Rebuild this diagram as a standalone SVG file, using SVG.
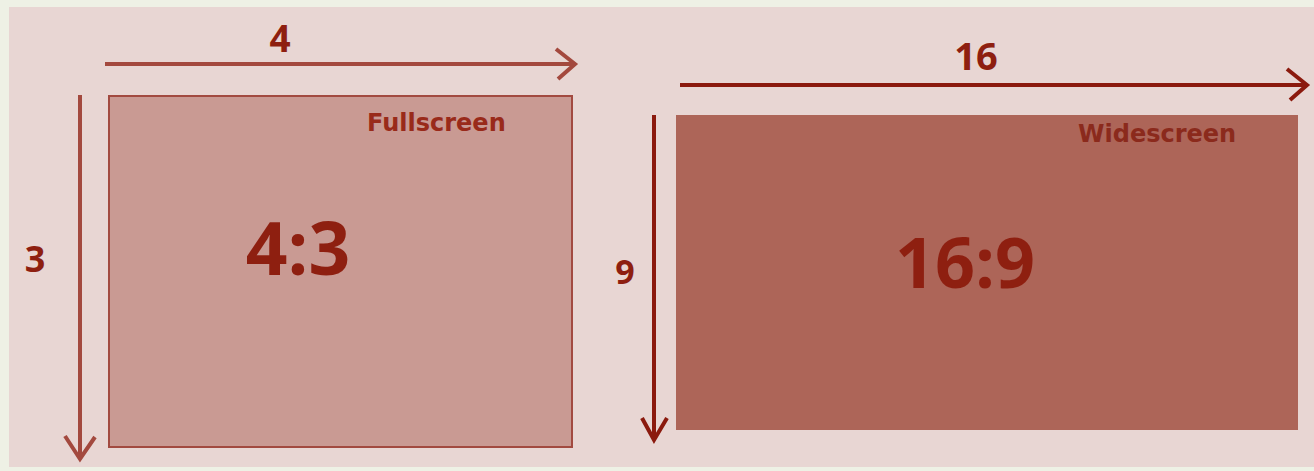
<svg xmlns="http://www.w3.org/2000/svg" width="1314" height="471" viewBox="0 0 1314 471">
<style>
.lbl{font-family:"Open Sans","Liberation Sans",sans-serif;font-weight:bold;fill:#8e1f10}
.cap{font-family:"DejaVu Sans","Liberation Sans",sans-serif;font-weight:bold;font-size:24px}
.a1{stroke:#a3493e;stroke-width:4;fill:none}
.a2{stroke:#8b1a0e;stroke-width:4;fill:none}
</style>
<rect x="0" y="0" width="1314" height="471" fill="#eef1e5"/>
<rect x="9" y="7" width="1305" height="460" fill="#e8d6d3"/>
<g id="fullscreen">
<rect x="109" y="96" width="463" height="351" fill="#c99a93" stroke="#a24a40" stroke-width="2"/>
<text class="cap" x="367" y="131" fill="#992a1a">Fullscreen</text>
<text class="lbl" x="298" y="275" font-size="73" text-anchor="middle">4:3</text>
</g>
<g id="widescreen">
<rect x="676" y="115" width="622" height="315" fill="#ad6558"/>
<text class="cap" x="1078" y="142" fill="#8b2a1c">Widescreen</text>
<text class="lbl" x="965" y="288" font-size="70" text-anchor="middle">16:9</text>
</g>
<g id="labels">
<text class="lbl" x="280" y="52" font-size="37" text-anchor="middle">4</text>
<text class="lbl" x="35" y="272" font-size="36" text-anchor="middle">3</text>
<text class="lbl" x="976" y="70" font-size="38" text-anchor="middle">16</text>
<text class="lbl" x="625" y="284" font-size="34" text-anchor="middle">9</text>
</g>
<g id="connectors">
<path class="a1" d="M105 64 H573 M556 49 L575 64 L558 79"/>
<path class="a1" d="M80 95 V457 M65 436 L80 459 L95 437"/>
<path class="a2" d="M680 85 H1306 M1287 69 L1307 85 L1290 100"/>
<path class="a2" d="M654 115 V438 M642 418 L654 440 L667 418"/>
</g>
</svg>
